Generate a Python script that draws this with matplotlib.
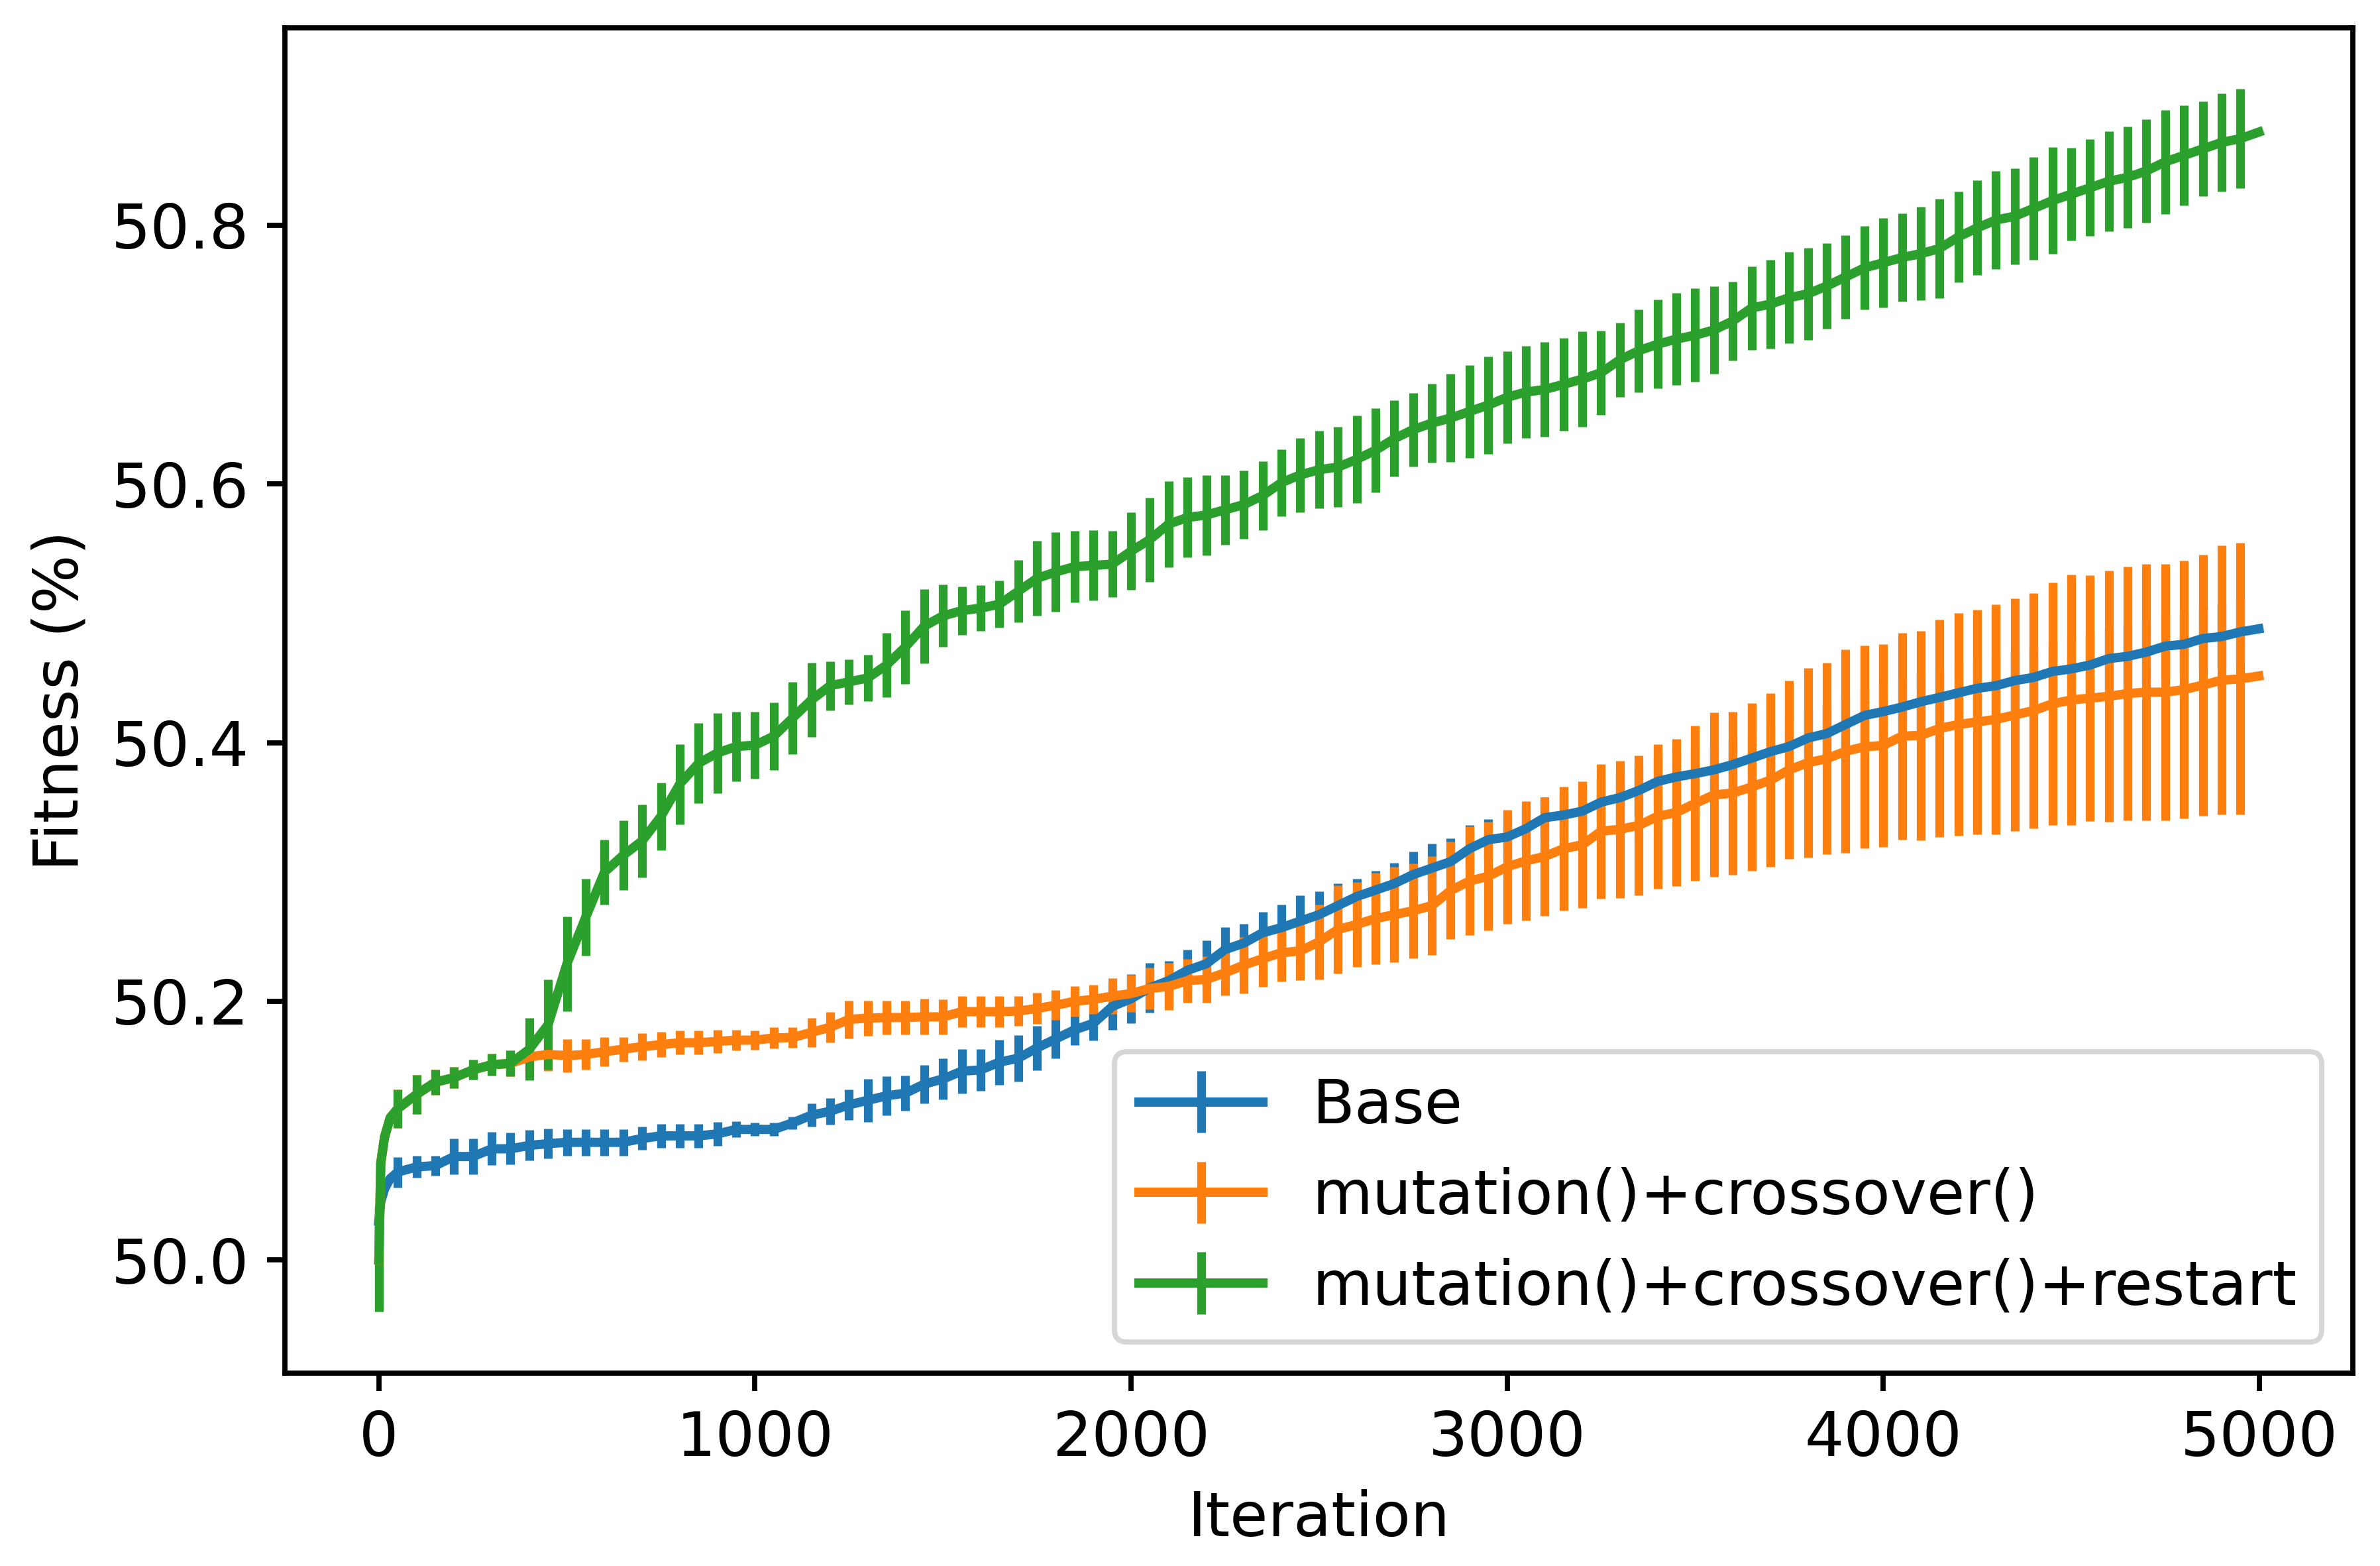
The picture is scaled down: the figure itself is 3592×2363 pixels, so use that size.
import matplotlib
matplotlib.use('Agg')
import matplotlib.pyplot as plt
import numpy as np

# Iteration grid (error bars every 50 iterations)
iters = [0, 5, 15, 30] + list(range(50, 5000, 50)) + [4999]

# Mean fitness (%) per method
base_mean = [
    50.030, 50.045, 50.055, 50.063,
    50.068, 50.072, 50.073, 50.080, 50.080, 50.086, 50.086, 50.0886, 50.090, 50.091,
    50.091, 50.091, 50.091, 50.094, 50.096, 50.096, 50.096, 50.0975, 50.101, 50.101,
    50.101, 50.106, 50.112, 50.115, 50.120, 50.1235, 50.127, 50.129, 50.136, 50.140,
    50.146, 50.147, 50.153, 50.156, 50.164, 50.171, 50.178, 50.183, 50.196, 50.202,
    50.2105, 50.216, 50.224, 50.229, 50.240, 50.245, 50.253, 50.257, 50.262, 50.267,
    50.274, 50.281, 50.286, 50.291, 50.298, 50.303, 50.308, 50.318, 50.325, 50.327,
    50.3335, 50.342, 50.344, 50.347, 50.354, 50.3575, 50.363, 50.370, 50.3735, 50.376,
    50.379, 50.383, 50.388, 50.393, 50.397, 50.4036, 50.407, 50.414, 50.421, 50.424,
    50.4275, 50.4316, 50.435, 50.4385, 50.442, 50.444, 50.448, 50.4504, 50.455, 50.457,
    50.460, 50.465, 50.4667, 50.470, 50.4746, 50.476, 50.4805, 50.482, 50.4856,
    50.488,
]
mc_mean = [
    50.000, 50.075, 50.095, 50.110,
    50.117, 50.128, 50.1375, 50.141, 50.147, 50.151, 50.152, 50.157, 50.159, 50.158,
    50.159, 50.161, 50.163, 50.165, 50.1665, 50.168, 50.168, 50.169, 50.170, 50.170,
    50.1717, 50.172, 50.176, 50.180, 50.186, 50.187, 50.1875, 50.1875, 50.188, 50.188,
    50.192, 50.192, 50.192, 50.1925, 50.1945, 50.197, 50.200, 50.2015, 50.204, 50.206,
    50.210, 50.2115, 50.216, 50.217, 50.222, 50.228, 50.233, 50.2376, 50.239, 50.246,
    50.2556, 50.2594, 50.264, 50.267, 50.270, 50.274, 50.2857, 50.293, 50.2967, 50.304,
    50.3086, 50.312, 50.318, 50.321, 50.3315, 50.333, 50.336, 50.343, 50.346, 50.353,
    50.3596, 50.361, 50.3657, 50.371, 50.379, 50.3845, 50.3876, 50.3933, 50.3968, 50.3978,
    50.405, 50.4056, 50.411, 50.414, 50.416, 50.418, 50.4214, 50.4248, 50.430, 50.433,
    50.4344, 50.4358, 50.438, 50.439, 50.439, 50.441, 50.4445, 50.4483, 50.4493,
    50.4515,
]
mcr_mean = [
    50.000, 50.075, 50.095, 50.110,
    50.117, 50.128, 50.1375, 50.141, 50.147, 50.151, 50.152, 50.163, 50.182, 50.229,
    50.265, 50.300, 50.313, 50.324, 50.343, 50.368, 50.384, 50.392, 50.397, 50.398,
    50.405, 50.419, 50.433, 50.444, 50.447, 50.450, 50.460, 50.474, 50.490, 50.498,
    50.502, 50.504, 50.507, 50.517, 50.527, 50.532, 50.536, 50.537, 50.538, 50.548,
    50.557, 50.569, 50.574, 50.576, 50.580, 50.584, 50.591, 50.601, 50.607, 50.611,
    50.613, 50.619, 50.626, 50.635, 50.642, 50.647, 50.651, 50.656, 50.661, 50.667,
    50.671, 50.673, 50.677, 50.681, 50.686, 50.696, 50.703, 50.708, 50.712, 50.715,
    50.719, 50.726, 50.736, 50.739, 50.744, 50.747, 50.753, 50.760, 50.767, 50.771,
    50.775, 50.778, 50.782, 50.791, 50.798, 50.804, 50.807, 50.813, 50.819, 50.824,
    50.829, 50.834, 50.837, 50.842, 50.849, 50.854, 50.859, 50.864, 50.867,
    50.872,
]

# Standard deviation per method (only used where error bars are drawn)
base_std = [
    0.012, 0.0, 0.0, 0.0,
    0.0118, 0.0084, 0.0077, 0.014, 0.014, 0.0128, 0.0123, 0.0118, 0.0114, 0.0102,
    0.0102, 0.0102, 0.0102, 0.009, 0.0094, 0.0094, 0.0094, 0.0094, 0.0063, 0.005,
    0.005, 0.005, 0.009, 0.0104, 0.0116, 0.0167, 0.015, 0.0137, 0.0149, 0.0157,
    0.0171, 0.0162, 0.0174, 0.0178, 0.0171, 0.015, 0.012, 0.013, 0.018, 0.019,
    0.019, 0.015, 0.016, 0.018, 0.0175, 0.015, 0.016, 0.018, 0.020, 0.018,
    0.017, 0.014, 0.015, 0.016, 0.018, 0.019, 0.018, 0.018, 0.016, 0.016,
    0.017, 0.016, 0.018, 0.018, 0.018, 0.019, 0.019, 0.019, 0.019, 0.020,
    0.020, 0.020, 0.020, 0.020, 0.021, 0.021, 0.021, 0.021, 0.021, 0.022,
    0.022, 0.022, 0.022, 0.022, 0.023, 0.023, 0.023, 0.023, 0.023, 0.024,
    0.024, 0.024, 0.024, 0.024, 0.025, 0.025, 0.025, 0.025, 0.025,
    0.0,
]
mc_std = [
    0.040, 0.0, 0.0, 0.0,
    0.015, 0.015, 0.0096, 0.008, 0.0077, 0.0085, 0.010, 0.012, 0.0126, 0.0128,
    0.0118, 0.0113, 0.0094, 0.0106, 0.0097, 0.0092, 0.0092, 0.009, 0.008, 0.0073,
    0.0082, 0.0079, 0.0114, 0.012, 0.0147, 0.0137, 0.013, 0.013, 0.0138, 0.0135,
    0.0121, 0.0121, 0.0121, 0.0114, 0.0121, 0.0116, 0.012, 0.0114, 0.0137, 0.0143,
    0.016, 0.018, 0.017, 0.018, 0.0175, 0.0217, 0.022, 0.0225, 0.0225, 0.029,
    0.034, 0.033, 0.0355, 0.037, 0.0366, 0.038, 0.0378, 0.042, 0.042, 0.044,
    0.046, 0.046, 0.048, 0.049, 0.052, 0.053, 0.054, 0.056, 0.057, 0.060,
    0.0635, 0.063, 0.0646, 0.067, 0.069, 0.0734, 0.074, 0.0787, 0.0784, 0.0784,
    0.080, 0.081, 0.084, 0.086, 0.087, 0.089, 0.090, 0.091, 0.094, 0.097,
    0.095, 0.097, 0.098, 0.099, 0.099, 0.0998, 0.101, 0.104, 0.105,
    0.0,
]
mcr_std = [
    0.040, 0.0, 0.0, 0.0,
    0.015, 0.015, 0.0096, 0.008, 0.0077, 0.0085, 0.010, 0.024, 0.035, 0.0366,
    0.0297, 0.025, 0.027, 0.028, 0.026, 0.031, 0.031, 0.031, 0.027, 0.026,
    0.026, 0.028, 0.0287, 0.019, 0.0174, 0.018, 0.025, 0.0285, 0.0285, 0.024,
    0.0186, 0.0178, 0.0183, 0.024, 0.029, 0.0306, 0.0277, 0.0273, 0.0256, 0.030,
    0.0325, 0.0333, 0.031, 0.031, 0.027, 0.0265, 0.0265, 0.026, 0.0287, 0.030,
    0.031, 0.0337, 0.0325, 0.0295, 0.0285, 0.0307, 0.034, 0.036, 0.0377, 0.0357,
    0.0355, 0.0366, 0.036, 0.0367, 0.0326, 0.0287, 0.0321, 0.0343, 0.0355, 0.036,
    0.0336, 0.0304, 0.0323, 0.0342, 0.0352, 0.0355, 0.0331, 0.0321, 0.0323, 0.0347,
    0.0342, 0.0362, 0.0383, 0.035, 0.0366, 0.0377, 0.0372, 0.0398, 0.0412, 0.0359,
    0.0374, 0.0388, 0.0393, 0.040, 0.0403, 0.0386, 0.0366, 0.0377, 0.0383,
    0.0,
]

labels = ['Base', 'mutation()+crossover()', 'mutation()+crossover()+restart']

plt.rcParams['font.size'] = 12
plt.rcParams['axes.linewidth'] = 1.0
plt.rcParams['xtick.major.width'] = 1.0
plt.rcParams['ytick.major.width'] = 1.0

x = np.array(iters)
bar_mask = (x % 50 == 0) & (x < 5000)

fig = plt.figure(figsize=(3592 / 560, 2363 / 560), dpi=560)
ax = fig.add_axes([0.1197, 0.1233, 0.9886 - 0.1197, 0.9822 - 0.1233])

for mean, std, lab in zip([base_mean, mc_mean, mcr_mean],
                          [base_std, mc_std, mcr_std], labels):
    ax.errorbar(x, mean, yerr=std, errorevery=bar_mask, label=lab,
                linewidth=1.8, elinewidth=1.7)

ax.set_xlabel('Iteration')
ax.set_ylabel('Fitness (%)')
ax.set_yticks([50.0, 50.2, 50.4, 50.6, 50.8])
ax.legend(loc='lower right')

fig.savefig('out.png', dpi=560)
